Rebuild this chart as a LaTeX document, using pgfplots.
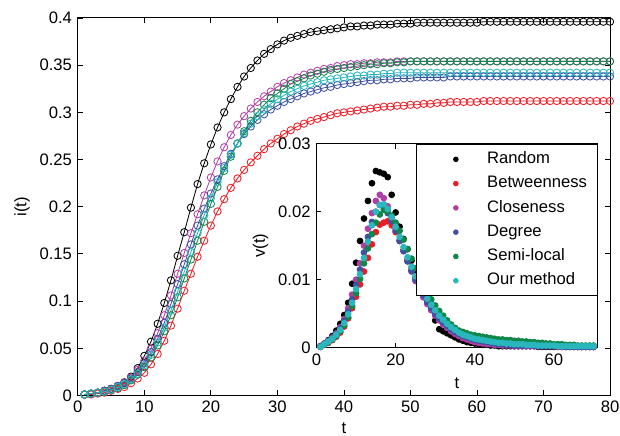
\documentclass[border=0pt]{standalone}
\usepackage{fontspec}
\setmainfont{Liberation Sans}
\usepackage{pgfplots}
\usepackage{pgfplotstable}
\pgfplotsset{compat=1.18}
\definecolor{cR}{RGB}{0,0,0}
\definecolor{cB}{RGB}{237,28,36}
\definecolor{cC}{RGB}{178,62,165}
\definecolor{cD}{RGB}{62,80,162}
\definecolor{cS}{RGB}{16,134,72}
\definecolor{cO}{RGB}{41,182,188}
\pgfplotstableread{
t R B C D S O
1 0.001 0.001 0.001 0.001 0.001 0.001
2 0.002 0.001 0.002 0.002 0.002 0.002
3 0.003 0.002 0.003 0.003 0.003 0.003
4 0.005 0.003 0.005 0.005 0.004 0.004
5 0.007 0.005 0.007 0.007 0.006 0.006
6 0.010 0.007 0.010 0.010 0.008 0.009
7 0.014 0.009 0.014 0.013 0.011 0.012
8 0.020 0.013 0.019 0.018 0.016 0.017
9 0.029 0.018 0.027 0.025 0.022 0.023
10 0.042 0.024 0.037 0.034 0.030 0.032
11 0.057 0.033 0.050 0.046 0.040 0.043
12 0.076 0.044 0.066 0.060 0.053 0.056
13 0.098 0.058 0.085 0.077 0.068 0.072
14 0.122 0.074 0.106 0.097 0.085 0.090
15 0.148 0.092 0.129 0.118 0.104 0.110
16 0.173 0.111 0.151 0.139 0.124 0.131
17 0.199 0.129 0.172 0.160 0.144 0.152
18 0.224 0.147 0.192 0.180 0.164 0.172
19 0.246 0.164 0.212 0.198 0.184 0.191
20 0.266 0.180 0.231 0.214 0.203 0.209
21 0.284 0.195 0.248 0.229 0.221 0.226
22 0.300 0.208 0.263 0.243 0.238 0.241
23 0.314 0.220 0.276 0.256 0.253 0.255
24 0.327 0.230 0.287 0.267 0.267 0.267
25 0.338 0.239 0.296 0.277 0.280 0.278
26 0.347 0.247 0.304 0.285 0.291 0.288
27 0.355 0.254 0.311 0.292 0.300 0.296
28 0.362 0.261 0.317 0.298 0.308 0.303
29 0.367 0.267 0.322 0.303 0.315 0.309
30 0.372 0.272 0.327 0.307 0.320 0.314
31 0.376 0.277 0.331 0.311 0.325 0.318
32 0.379 0.281 0.334 0.314 0.330 0.322
33 0.381 0.285 0.337 0.317 0.333 0.325
34 0.383 0.288 0.340 0.320 0.336 0.328
35 0.385 0.291 0.342 0.322 0.339 0.330
36 0.386 0.293 0.344 0.324 0.341 0.332
37 0.387 0.295 0.346 0.326 0.343 0.334
38 0.388 0.297 0.347 0.327 0.345 0.335
39 0.389 0.299 0.349 0.329 0.346 0.336
40 0.390 0.300 0.350 0.330 0.347 0.337
41 0.391 0.301 0.351 0.331 0.348 0.338
42 0.391 0.302 0.351 0.332 0.349 0.339
43 0.392 0.303 0.352 0.333 0.350 0.339
44 0.392 0.304 0.352 0.334 0.351 0.340
45 0.393 0.305 0.353 0.334 0.351 0.340
46 0.393 0.306 0.353 0.335 0.352 0.341
47 0.393 0.306 0.353 0.335 0.352 0.341
48 0.394 0.307 0.354 0.336 0.353 0.342
49 0.394 0.307 0.354 0.336 0.353 0.342
50 0.394 0.308 0.354 0.336 0.354 0.342
51 0.395 0.308 0.354 0.337 0.354 0.342
52 0.395 0.309 0.354 0.337 0.354 0.342
53 0.395 0.309 0.354 0.337 0.354 0.342
54 0.395 0.310 0.354 0.337 0.354 0.342
55 0.395 0.310 0.354 0.337 0.354 0.342
56 0.395 0.311 0.354 0.338 0.354 0.342
57 0.395 0.311 0.354 0.338 0.354 0.342
58 0.395 0.311 0.354 0.338 0.354 0.342
59 0.395 0.311 0.354 0.338 0.354 0.342
60 0.395 0.311 0.354 0.338 0.354 0.342
61 0.396 0.312 0.354 0.338 0.354 0.342
62 0.396 0.312 0.354 0.338 0.354 0.342
63 0.396 0.312 0.354 0.338 0.354 0.342
64 0.396 0.312 0.354 0.338 0.354 0.342
65 0.396 0.312 0.354 0.338 0.354 0.342
66 0.396 0.312 0.354 0.338 0.354 0.342
67 0.396 0.312 0.354 0.338 0.354 0.342
68 0.396 0.312 0.354 0.338 0.354 0.342
69 0.396 0.312 0.354 0.338 0.354 0.342
70 0.396 0.312 0.354 0.338 0.354 0.342
71 0.396 0.312 0.354 0.338 0.354 0.342
72 0.396 0.312 0.354 0.338 0.354 0.342
73 0.396 0.312 0.354 0.338 0.354 0.342
74 0.396 0.312 0.354 0.338 0.354 0.342
75 0.396 0.312 0.354 0.338 0.354 0.342
76 0.396 0.312 0.354 0.338 0.354 0.342
77 0.396 0.312 0.354 0.338 0.354 0.342
78 0.396 0.312 0.354 0.338 0.354 0.342
79 0.396 0.312 0.354 0.338 0.354 0.342
80 0.396 0.312 0.354 0.338 0.354 0.342
}\maintable
\pgfplotstableread{
t R B C D S O
1 0.0002 0.0001 0.0002 0.0002 0.0001 0.0001
2 0.0006 0.0004 0.0006 0.0005 0.0004 0.0005
3 0.0011 0.0007 0.0010 0.0009 0.0008 0.0009
4 0.0017 0.0011 0.0015 0.0014 0.0012 0.0013
5 0.0025 0.0016 0.0021 0.0020 0.0017 0.0019
6 0.0035 0.0022 0.0030 0.0028 0.0024 0.0026
7 0.0048 0.0031 0.0042 0.0039 0.0033 0.0036
8 0.0066 0.0043 0.0058 0.0053 0.0045 0.0049
9 0.0094 0.0058 0.0078 0.0071 0.0061 0.0066
10 0.0125 0.0075 0.0100 0.0092 0.0080 0.0086
11 0.0157 0.0093 0.0124 0.0115 0.0101 0.0108
12 0.0190 0.0112 0.0150 0.0140 0.0124 0.0132
13 0.0216 0.0132 0.0175 0.0163 0.0146 0.0156
14 0.0242 0.0152 0.0198 0.0185 0.0167 0.0180
15 0.0260 0.0170 0.0216 0.0200 0.0184 0.0200
16 0.0258 0.0181 0.0225 0.0210 0.0196 0.0210
17 0.0256 0.0184 0.0220 0.0207 0.0203 0.0211
18 0.0251 0.0186 0.0208 0.0198 0.0201 0.0204
19 0.0225 0.0180 0.0192 0.0186 0.0194 0.0192
20 0.0199 0.0170 0.0175 0.0172 0.0184 0.0178
21 0.0178 0.0157 0.0158 0.0157 0.0172 0.0163
22 0.0160 0.0144 0.0142 0.0142 0.0159 0.0148
23 0.0145 0.0130 0.0127 0.0127 0.0145 0.0133
24 0.0128 0.0116 0.0112 0.0113 0.0131 0.0119
25 0.0113 0.0103 0.0098 0.0100 0.0117 0.0105
26 0.0098 0.0091 0.0085 0.0088 0.0104 0.0093
27 0.0084 0.0080 0.0074 0.0077 0.0092 0.0082
28 0.0070 0.0070 0.0064 0.0067 0.0081 0.0072
29 0.0056 0.0061 0.0055 0.0058 0.0071 0.0063
30 0.0040 0.0053 0.0047 0.0050 0.0062 0.0055
31 0.0027 0.0046 0.0040 0.0043 0.0054 0.0047
32 0.0024 0.0040 0.0034 0.0037 0.0047 0.0041
33 0.0021 0.0035 0.0029 0.0032 0.0040 0.0035
34 0.0018 0.0030 0.0024 0.0027 0.0034 0.0030
35 0.0015 0.0026 0.0020 0.0023 0.0029 0.0026
36 0.0012 0.0022 0.0017 0.0020 0.0025 0.0022
37 0.0010 0.0019 0.0014 0.0017 0.0023 0.0019
38 0.0008 0.0017 0.0012 0.0015 0.0021 0.0017
39 0.0007 0.0015 0.0010 0.0013 0.0019 0.0015
40 0.0006 0.0013 0.0008 0.0011 0.0018 0.0013
41 0.0005 0.0012 0.0007 0.0010 0.0017 0.0012
42 0.0004 0.0011 0.0006 0.0009 0.0016 0.0011
43 0.0004 0.0010 0.0005 0.0008 0.0015 0.0010
44 0.0003 0.0009 0.0005 0.0007 0.0014 0.0009
45 0.0003 0.0008 0.0004 0.0006 0.0013 0.0008
46 0.0002 0.0008 0.0004 0.0005 0.0012 0.0007
47 0.0002 0.0007 0.0003 0.0005 0.0012 0.0007
48 0.0002 0.0007 0.0003 0.0004 0.0011 0.0006
49 0.0002 0.0006 0.0003 0.0004 0.0011 0.0006
50 0.0002 0.0006 0.0002 0.0003 0.0010 0.0005
51 0.0002 0.0005 0.0002 0.0003 0.0010 0.0005
52 0.0002 0.0005 0.0002 0.0003 0.0009 0.0005
53 0.0002 0.0005 0.0002 0.0003 0.0009 0.0004
54 0.0002 0.0004 0.0002 0.0003 0.0008 0.0004
55 0.0002 0.0004 0.0002 0.0003 0.0008 0.0004
56 0.0001 0.0004 0.0002 0.0002 0.0007 0.0003
57 0.0001 0.0003 0.0002 0.0002 0.0007 0.0003
58 0.0001 0.0003 0.0002 0.0002 0.0006 0.0003
59 0.0001 0.0003 0.0002 0.0002 0.0006 0.0003
60 0.0001 0.0003 0.0002 0.0002 0.0005 0.0003
61 0.0001 0.0002 0.0001 0.0002 0.0005 0.0002
62 0.0001 0.0002 0.0001 0.0002 0.0005 0.0002
63 0.0001 0.0002 0.0001 0.0001 0.0004 0.0002
64 0.0001 0.0002 0.0001 0.0001 0.0004 0.0002
65 0.0001 0.0002 0.0001 0.0001 0.0004 0.0002
66 0.0001 0.0002 0.0001 0.0001 0.0003 0.0002
67 0.0001 0.0001 0.0001 0.0001 0.0003 0.0002
68 0.0001 0.0001 0.0001 0.0001 0.0003 0.0002
69 0.0001 0.0001 0.0001 0.0001 0.0003 0.0002
70 0.0001 0.0001 0.0001 0.0001 0.0003 0.0002
}\insettable
\pgfplotsset{
  mystyle/.style={
    scale only axis,
    tick align=inside, tick pos=both, major tick length=3pt,
    scaled y ticks=false, scaled x ticks=false,
    /pgf/number format/assume math mode=true,
    yticklabel style={/pgf/number format/fixed,/pgf/number format/precision=2},
    xticklabel style={inner xsep=0pt},
    every axis plot/.append style={line width=0.5pt},
    axis line style={line width=0.6pt},
    every tick/.style={black, line width=0.5pt},
  },
  mline/.style={color=#1, mark=o, mark size=2.2pt, line width=0.5pt},
  mdot/.style={color=#1, only marks, mark=*, mark size=1.75pt},
}
\begin{document}
\begin{tikzpicture}
\begin{axis}[mystyle,
  at={(0pt,0pt)}, anchor=south west,
  width=320pt, height=227pt,
  xmin=0, xmax=80, ymin=0, ymax=0.4,
  xtick={0,10,20,30,40,50,60,70,80},
  ytick={0,0.05,0.1,0.15,0.2,0.25,0.3,0.35,0.4},
  xlabel={t}, ylabel={i(t)},
  xlabel style={at={(rel axis cs:0.5,0)}, anchor=center, yshift=-19.5pt, inner sep=0pt},
  ylabel style={at={(rel axis cs:-0.105,0.5)}, anchor=center, inner sep=0pt},
]
\addplot[mline=cR] table[x=t,y=R] {\maintable};
\addplot[mline=cB] table[x=t,y=B] {\maintable};
\addplot[mline=cC] table[x=t,y=C] {\maintable};
\addplot[mline=cD] table[x=t,y=D] {\maintable};
\addplot[mline=cS] table[x=t,y=S] {\maintable};
\addplot[mline=cO] table[x=t,y=O] {\maintable};
\end{axis}
\begin{axis}[mystyle,
  at={(143.5pt,28.8pt)}, anchor=south west,
  width=169pt, height=122.5pt,
  xmin=0, xmax=71, ymin=0, ymax=0.03,
  xtick={0,20,40,60}, ytick={0,0.01,0.02,0.03},
  xlabel={t}, ylabel={v(t)},
  xlabel style={at={(rel axis cs:0.5,0)}, anchor=center, yshift=-21.6pt, inner sep=0pt},
  ylabel style={at={(rel axis cs:-0.199,0.5)}, anchor=center, inner sep=0pt},
  axis background/.style={fill=white},
  legend cell align=left,
  legend style={at={(1,1)}, anchor=north east, draw=black, line width=0.6pt, fill=white,
    inner xsep=0pt, inner ysep=4pt, row sep=4.6pt,
    nodes={inner xsep=0pt, inner ysep=0pt, text height=7.5pt, text depth=2.5pt}},
  legend image code/.code={\path (-23.4pt,0pt) (18.6pt,0pt);
    \draw[#1, mark size=1.4pt] plot coordinates {(0pt,0pt)};},
]
\addplot[mdot=cR] table[x=t,y=R] {\insettable};
\addplot[mdot=cB] table[x=t,y=B] {\insettable};
\addplot[mdot=cC] table[x=t,y=C] {\insettable};
\addplot[mdot=cD] table[x=t,y=D] {\insettable};
\addplot[mdot=cS] table[x=t,y=S] {\insettable};
\addplot[mdot=cO] table[x=t,y=O] {\insettable};
\legend{Random\hspace*{6pt},Betweenness\hspace*{6pt},Closeness\hspace*{6pt},Degree\hspace*{6pt},Semi-local\hspace*{6pt},Our method\hspace*{6pt}}
\end{axis}
\path (-46.8pt,-24pt) rectangle (326pt,237.8pt);
\end{tikzpicture}
\end{document}
